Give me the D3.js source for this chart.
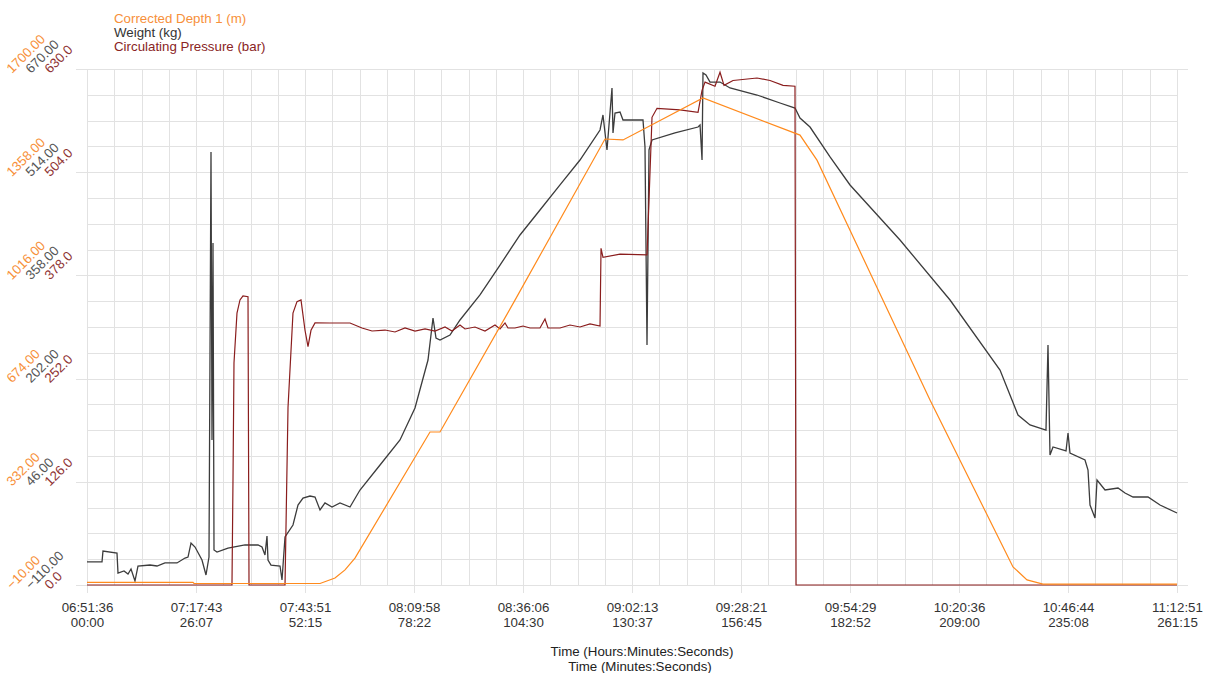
<!DOCTYPE html>
<html>
<head>
<meta charset="utf-8">
<script src="https://cdn.jsdelivr.net/npm/d3@7"></script>
<style>
  body { margin: 0; background: #fff; }
  svg { font-family: "Liberation Sans", Arial, sans-serif; }
</style>
</head>
<body>
<div id="chart"></div>
<script>
// time in minutes from 06:51:36
var clockLabels = ["06:51:36","07:17:43","07:43:51","08:09:58","08:36:06","09:02:13","09:28:21","09:54:29","10:20:36","10:46:44","11:12:51"];
var minuteLabels = ["00:00","26:07","52:15","78:22","104:30","130:37","156:45","182:52","209:00","235:08","261:15"];
var depthTicks = [-10, 332, 674, 1016, 1358, 1700];
var weightTicks = [-110, 46, 202, 358, 514, 670];
var pressureTicks = [0, 126, 252, 378, 504, 630];

var depthSeries = [
  [0,-1],[25.4,-1],[25.65,-5],[55.85,-5],[59.44,13],[61.84,40],[64.23,79],
  [82.21,497],[84.61,497],[102.58,934],[124.15,1468],[128.47,1465],[147.64,1604],
  [170.89,1481],[174.96,1398],[202.05,603],[221.94,50],[225.3,7],[229.13,-7],[261.25,-7]
];

var weightSeries = [
  [0,-75],[3.6,-75],[3.83,-58.6],[7.19,-61.6],[7.43,-91.9],[8.87,-88.8],[9.83,-93.4],
  [10.55,-85.8],[11.5,-104],[12.22,-81.3],[15.1,-79.8],[16.78,-81.3],[18.69,-76.7],
  [21.57,-76.7],[23.49,-69.2],[24.21,-67.7],[24.93,-46.5],[25.89,-52.6],[27.56,-72.2],
  [28.52,-94.9],[29.24,-67.7],[29.72,544.5],[29.96,109.2],[30.2,407],[30.44,-57.1],
  [31.16,-60.1],[33.79,-54.1],[37.87,-49.5],[40.99,-49.5],[41.94,-52.6],[42.66,-64.7],
  [43.14,-35.9],[43.38,-72.2],[44.1,-79.8],[46.26,-81.3],[46.74,-102.4],[47.46,-37.4],
  [49.37,-19.3],[50.57,10.9],[51.77,21.5],[53.45,24.5],[54.65,23],[55.85,3.4],
  [57.04,14],[58.72,7.9],[60.64,14],[63.04,7.9],[65.43,33.6],[70.23,71.4],[75.02,109.2],
  [78.61,157.6],[81.73,230.1],[82.93,293.6],[83.65,263.4],[84.61,260.3],[87,267.9],
  [89.4,290.6],[94.19,328.4],[98.99,373.7],[103.78,419.1],[108.57,456.9],[113.37,494.7],
  [118.16,532.4],[122.96,577.8],[123.67,600.5],[124.63,547.6],[125.83,641.3],[126.07,573.3],
  [126.55,603.5],[127.75,605],[128.47,592.9],[133.26,592.9],[133.74,552.1],[134.22,252.8],
  [134.7,547.6],[135.42,562.7],[140.93,573.3],[146.45,582.3],[146.93,585.3],[147.41,532.4],
  [147.64,664],[148.36,661],[149.32,650.3],[151.72,650.3],[154.12,641.3],[160.59,630.7],
  [166.1,618.6],[169.7,611],[170.89,595.9],[173.29,582.3],[178.09,537],[182.88,494.7],
  [194.86,411.5],[206.85,320.8],[218.83,215],[223.14,147],[226.02,131.9],[229.85,124.3],
  [230.33,252.8],[230.81,86.5],[231.53,98.6],[234.65,92.6],[235.13,119.8],[235.6,89.5],
  [239.2,79],[239.92,63.8],[240.4,10.9],[241.6,-8.7],[242.08,48.7],[244,33.6],
  [247.11,36.6],[248.79,29.1],[250.71,23],[254.3,23],[257.18,10.9],[261.25,-1.2]
];

var pressureSeries = [
  [0,0],[34.75,0],[34.99,128],[35.23,271],[35.95,332],[36.67,348],[37.39,353],
  [38.59,352],[38.83,0],[47.46,0],[48.18,217],[49.37,332],[50.33,346],[51.29,348],
  [52.25,311],[52.97,291],[53.69,311],[54.65,320],[58.24,319.9],[63.04,319.9],
  [65.91,313.8],[68.31,310.1],[71.43,311.3],[73.82,308.9],[76.22,313.8],[78.62,310.1],
  [81.02,312.6],[83.41,310.1],[85.81,315],[87.48,310.1],[89.4,317.4],[90.6,312.6],
  [92.99,315],[95.39,310.1],[97.79,317.4],[98.99,312.6],[100.19,319.9],[100.9,313.8],
  [102.58,313.8],[104.5,316.2],[106.18,313.8],[108.57,313.8],[109.77,324.8],[110.49,313.8],
  [113.37,313.8],[115.76,317.4],[118.16,315],[120.56,318.7],[122.96,316.2],
  [123.2,411],[123.67,400],[127.75,404],[134.22,403],[134.7,470],[135.42,571],
  [136.62,582],[142.13,580],[146.45,577],[147.41,604],[148.13,614],[150.52,609],
  [151.72,626],[152.68,610],[154.84,616],[160.59,619],[163.71,616],[166.82,610],
  [169.69,609],[169.93,0],[261.25,0]
];

var W = 1210, H = 673;
var mLeft = 87, mRight = 1177, mTop = 69, mBottom = 585;
var fs = "13.3px";

var svg = d3.select("#chart").append("svg").attr("width", W).attr("height", H);

var x = d3.scaleLinear().domain([0, 261.25]).range([mLeft, mRight]);
var yDepth = d3.scaleLinear().domain([-10, 1700]).range([mBottom, mTop]);
var yWeight = d3.scaleLinear().domain([-110, 670]).range([mBottom, mTop]);
var yPress = d3.scaleLinear().domain([0, 630]).range([mBottom, mTop]);

var majorT = minuteLabels.map(function(d, i){ return i * 26.125; });
var minorT = d3.range(0, 41).map(function(i){ return i * 26.125 / 4; });
var minorP = d3.range(0, 21).map(function(i){ return i * 31.5; });

// grid
var grid = svg.append("g").attr("stroke", "#e2e2e2").attr("stroke-width", 1);
grid.selectAll(".vx").data(minorT).enter().append("line")
  .attr("x1", function(d){ return Math.round(x(d)) + 0.5; })
  .attr("x2", function(d){ return Math.round(x(d)) + 0.5; })
  .attr("y1", mTop).attr("y2", mBottom);
grid.selectAll(".hy").data(minorP).enter().append("line")
  .attr("x1", mLeft).attr("x2", mRight)
  .attr("y1", function(d){ return Math.round(yPress(d)) + 0.5; })
  .attr("y2", function(d){ return Math.round(yPress(d)) + 0.5; });
// major extensions left / right
grid.selectAll(".mj").data(pressureTicks).enter().append("line")
  .attr("x1", mLeft - 11).attr("x2", mRight + 11)
  .attr("y1", function(d){ return Math.round(yPress(d)) + 0.5; })
  .attr("y2", function(d){ return Math.round(yPress(d)) + 0.5; });

// x axis
var xAxis = svg.append("g").attr("transform", "translate(0," + mBottom + ")")
  .call(d3.axisBottom(x).tickValues(majorT).tickSize(8).tickSizeOuter(0)
    .tickFormat(function(d, i){ return clockLabels[i]; }));
xAxis.select(".domain").remove();
xAxis.selectAll(".tick line").attr("stroke", "#e2e2e2");
xAxis.selectAll(".tick text").each(function(d, i){
  var t = d3.select(this).text("").attr("y", 0).attr("dy", null)
    .attr("fill", "#333").style("font-size", fs);
  t.append("tspan").attr("x", 0).attr("y", 27).text(clockLabels[i]);
  t.append("tspan").attr("x", 0).attr("y", 42).text(minuteLabels[i]);
});

svg.append("text").attr("x", 642).attr("y", 656).attr("text-anchor", "middle")
  .attr("fill", "#222").style("font-size", fs).text("Time (Hours:Minutes:Seconds)");
svg.append("text").attr("x", 640).attr("y", 671).attr("text-anchor", "middle")
  .attr("fill", "#222").style("font-size", fs).text("Time (Minutes:Seconds)");

// y labels, three stacked per tick, rotated
var yLab = svg.append("g").style("font-size", fs);
function addYLabels(ticks, scale, dx, color, fmt){
  yLab.selectAll(null).data(ticks).enter().append("text")
    .attr("transform", function(d){ return "translate(" + dx + "," + (scale(d) + 5) + ") rotate(-45)"; })
    .attr("fill", color)
    .text(function(d){ return d3.format(fmt)(d); });
}
addYLabels(depthTicks, yDepth, 12, "#f7903a", ".2f");
addYLabels(weightTicks, yWeight, 31, "#555", ".2f");
addYLabels(pressureTicks, yPress, 50, "#8f3434", ".1f");

// lines
var line = function(scale){
  return d3.line().x(function(d){ return x(d[0]); }).y(function(d){ return scale(d[1]); });
};
svg.append("path").datum(weightSeries).attr("d", line(yWeight))
  .attr("fill", "none").attr("stroke", "#3c3c3c").attr("stroke-width", 1.3);
svg.append("path").datum(pressureSeries).attr("d", line(yPress))
  .attr("fill", "none").attr("stroke", "#8a1d1d").attr("stroke-width", 1.2);
svg.append("path").datum(depthSeries).attr("d", line(yDepth))
  .attr("fill", "none").attr("stroke", "#ff8a1c").attr("stroke-width", 1.2);

// legend
var legend = [["Corrected Depth 1 (m)", "#f7903a"], ["Weight (kg)", "#333"], ["Circulating Pressure (bar)", "#8a2424"]];
svg.selectAll(".leg").data(legend).enter().append("text")
  .attr("x", 114).attr("y", function(d, i){ return 23 + i * 14; })
  .attr("fill", function(d){ return d[1]; }).style("font-size", fs)
  .text(function(d){ return d[0]; });
</script>
</body>
</html>
